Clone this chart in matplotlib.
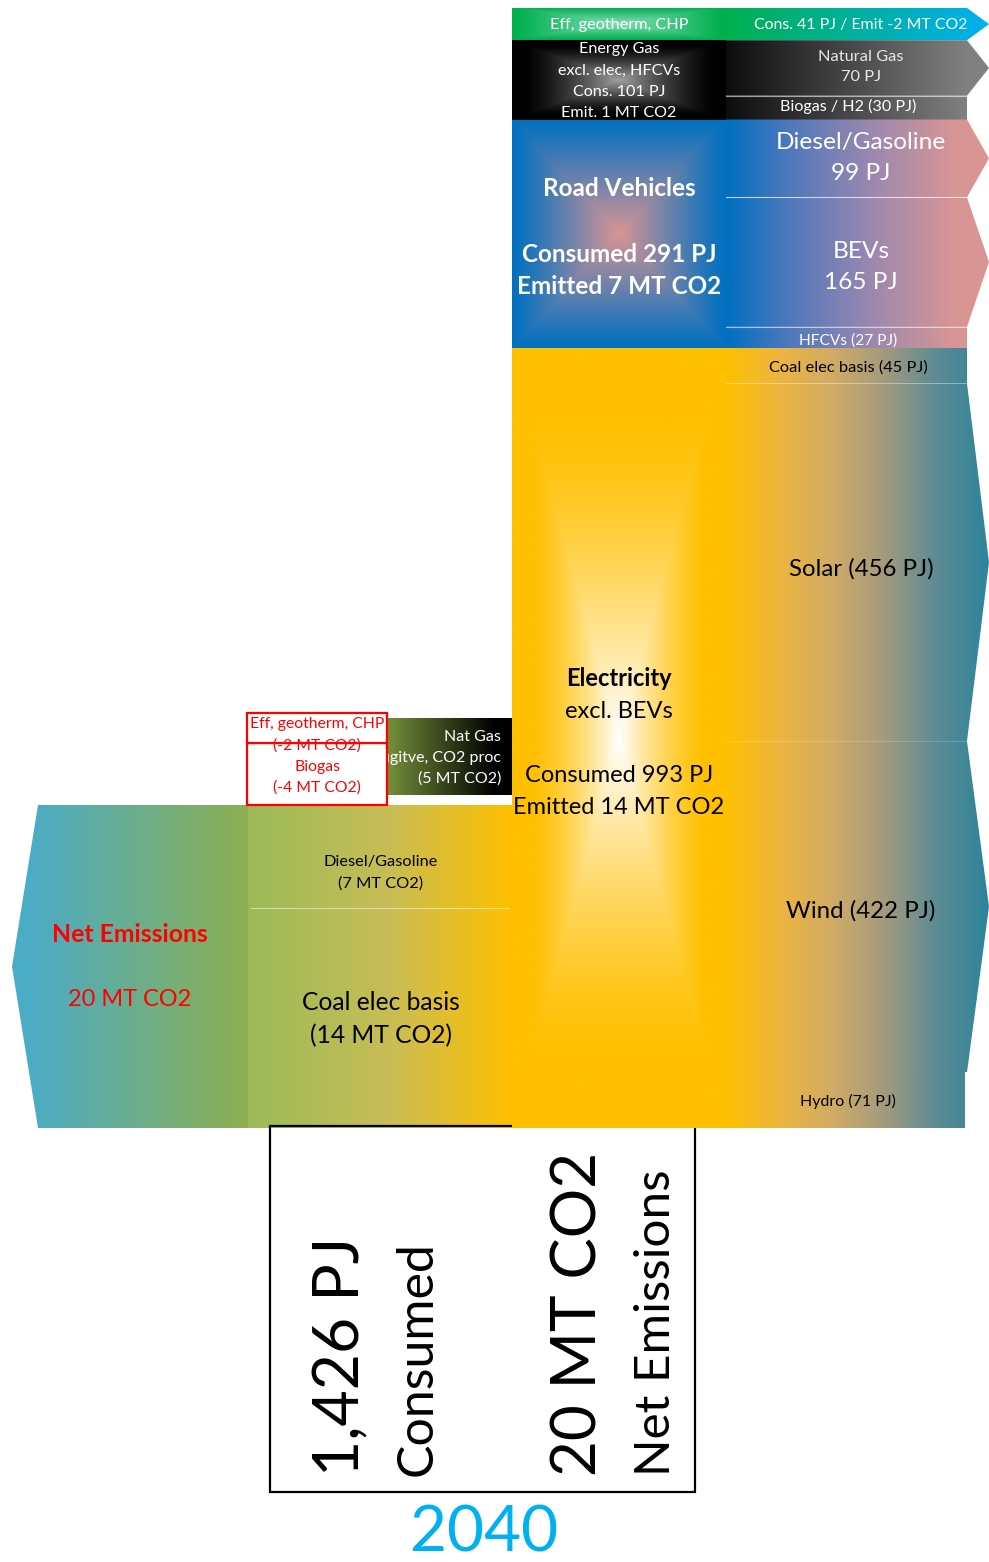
import numpy as np
import matplotlib.pyplot as plt
from matplotlib.patches import Polygon, Rectangle
from matplotlib.colors import to_rgb

plt.rcParams['font.family'] = ['Lato', 'DejaVu Sans']

# --- Data ------------------------------------------------------------
# energy consumed by sector (PJ), stacked top to bottom in the centre column
sectors = ['Eff, geotherm, CHP', 'Energy Gas', 'Road Vehicles', 'Electricity']
sector_pj = [41, 101, 291, 993]
total_pj = 1426

gas_parts = ['Natural Gas', 'Biogas / H2']
gas_pj = [70, 30]
road_parts = ['Diesel/Gasoline', 'BEVs', 'HFCVs']
road_pj = [99, 165, 27]
elec_parts = ['Coal elec basis', 'Solar', 'Wind', 'Hydro']
elec_pj = [45, 456, 422, 71]

# emissions (MT CO2)
net_mt = 20
emit_parts = ['Diesel/Gasoline', 'Coal elec basis']
emit_mt = [7, 14]
natgas_mt = 5
offset_parts = ['Eff, geotherm, CHP', 'Biogas']
offset_mt = [-2, -4]
year = '2040'

# --- Figure ----------------------------------------------------------
W, H = 989, 1562
fig = plt.figure(figsize=(W / 100, H / 100), dpi=100)
ax = fig.add_axes([0, 0, 1, 1])

PJ_PX = 1120 / total_pj     # pixels per PJ
MT_PX = 323 / net_mt        # pixels per MT CO2
TOP, BASE = 8, 1128
CX0, CX1 = 512, 726         # centre column
RX1, TIP = 967, 989         # right column end / arrow tip
LX0 = 248                   # left emissions column


def rect(x0, y0, x1, y1):
    return [(x0, y0), (x1, y0), (x1, y1), (x0, y1)]


def arrow(x0, y0, x1, y1, tip):
    return [(x0, y0), (x1, y0), (tip, (y0 + y1) / 2), (x1, y1), (x0, y1)]


def shade(verts, fn, z, n=300):
    verts = np.asarray(verts, float)
    x0, y0 = verts.min(0)
    x1, y1 = verts.max(0)
    X, Y = np.meshgrid(np.linspace(x0, x1, n), np.linspace(y0, y1, n))
    poly = Polygon(verts, closed=True, fc='none', ec='none')
    ax.add_patch(poly)
    im = ax.imshow(fn(X, Y), extent=(x0, x1, y1, y0), origin='upper',
                   aspect='auto', interpolation='bilinear', zorder=z)
    im.set_clip_path(poly)


def ramp(colors, xs):
    cols = np.array([to_rgb(c) for c in colors])

    def f(X, Y):
        return np.stack([np.interp(X, xs, cols[:, k]) for k in range(3)], -1)
    return f


def linear(c0, c1, xa, xb):
    return ramp([c0, c1], [xa, xb])


def glow(edge, centre, box, reach, power):
    a, b = np.array(to_rgb(edge)), np.array(to_rgb(centre))
    x0, y0, x1, y1 = box
    cx, cy, hw, hh = (x0 + x1) / 2, (y0 + y1) / 2, (x1 - x0) / 2, (y1 - y0) / 2

    def f(X, Y):
        t = np.maximum(np.abs(X - cx) / hw, np.abs(Y - cy) / hh)
        w = np.clip(1 - t / reach, 0, 1) ** power
        return a + (b - a) * w[..., None]
    return f


def split(y0, y1, vals):
    edges = y0 + (y1 - y0) * np.concatenate([[0], np.cumsum(vals)]) / np.sum(vals)
    return list(zip(edges[:-1], edges[1:]))


def sep(x0, x1, y):
    ax.plot([x0, x1], [y, y], color='white', lw=0.8, alpha=0.6, zorder=9)


def label(x, y, s, size, color='black', weight='normal', z=10, **kw):
    ax.text(x, y, s, fontsize=size, color=color, fontweight=weight,
            ha=kw.pop('ha', 'center'), va='center', zorder=z,
            linespacing=kw.pop('linespacing', 1.62), **kw)


# centre column blocks
yb = np.concatenate([[TOP], TOP + np.cumsum(sector_pj) * PJ_PX])
eff_y, gas_y, road_y, elec_y = [(yb[i], yb[i + 1]) for i in range(4)]
mx = (CX0 + CX1) / 2

# efficiency / geothermal band
shade(rect(CX0, eff_y[0], CX1, eff_y[1]),
      glow('#00B050', '#86DDB8', (CX0, eff_y[0], CX1, eff_y[1]), 0.95, 1.0), 2)
shade(arrow(CX1, eff_y[0], RX1, eff_y[1], TIP), linear('#00B050', '#00B0F0', CX1, TIP), 2)
label(mx, np.mean(eff_y) + 1, sectors[0], 11.7, 'white')
label(861, np.mean(eff_y) + 1, f'Cons. {sector_pj[0]} PJ / Emit {offset_mt[0]} MT CO2', 11.4, 'white')

# energy gas
shade(rect(CX0, gas_y[0], CX1, gas_y[1]),
      glow('#000000', '#A0A0A0', (CX0, gas_y[0], CX1, gas_y[1]), 0.9, 1.4), 3)
label(mx, 81, f'{sectors[1]}\nexcl. elec, HFCVs\nCons. {sector_pj[1]} PJ\nEmit. 1 MT CO2',
      11.6, 'white', z=3.5, linespacing=1.65)
gy = split(gas_y[0], gas_y[1], gas_pj)
shade(arrow(CX1, gy[0][0], RX1, gy[0][1], TIP), linear('#0D0D0D', '#808080', CX1, RX1), 3)
shade(rect(CX1, gy[1][0], RX1, gy[1][1]), linear('#0D0D0D', '#808080', CX1, RX1), 3)
sep(CX1, RX1, gy[0][1])
label(861, 67, f'{gas_parts[0]}\n{gas_pj[0]} PJ', 11.8, '#E8E8E8')
label(848, np.mean(gy[1]) - 1.5, f'{gas_parts[1]} ({gas_pj[1]} PJ)', 11.6, 'white')

# road vehicles
shade(rect(CX0, road_y[0], CX1, road_y[1]),
      glow('#0070C0', '#D99594', (CX0, road_y[0], CX1, road_y[1]), 1.0, 1.1), 4)
label(mx, 189, sectors[2], 17.5, 'white', 'bold')
label(mx, 254, f'Consumed {sector_pj[2]} PJ', 17.5, 'white', 'bold')
label(mx, 286, 'Emitted 7 MT CO2', 17.5, 'white', 'bold')
ry = split(road_y[0], road_y[1], road_pj)
road_fill = ramp(['#0070C0', '#4F78BC', '#9A88B0', '#D99594'], [CX1, 790, 870, 955])
shade(arrow(CX1, ry[0][0], RX1, ry[0][1], TIP), road_fill, 4)
shade(arrow(CX1, ry[1][0], RX1, ry[1][1], TIP), road_fill, 4)
shade(rect(CX1, ry[2][0], RX1, ry[2][1]), road_fill, 4)
sep(CX1, RX1, ry[0][1])
sep(CX1, RX1, ry[1][1])
label(861, 158, f'{road_parts[0]}\n{road_pj[0]} PJ', 17.6, 'white', linespacing=1.6)
label(861, 267, f'{road_parts[1]}\n{road_pj[1]} PJ', 17.6, 'white', linespacing=1.6)
label(848, np.mean(ry[2]) + 3, f'{road_parts[2]} ({road_pj[2]} PJ)', 11.2, 'white')

# electricity
elec_top = elec_y[0]
shade(rect(CX0, elec_top, CX1, BASE),
      glow('#FFC000', '#FFFFFF', (CX0, elec_top, CX1, BASE), 0.82, 1.4), 5)
label(mx, 678, sectors[3], 17, 'black', 'bold')
label(mx, 711, 'excl. BEVs', 17)
label(mx, 776, f'Consumed {sector_pj[3]} PJ', 17)
label(mx, 808, 'Emitted 14 MT CO2', 17)
ey = split(elec_top, BASE, elec_pj)
elec_fill = ramp(['#FFC000', '#EDB540', '#D2AC64', '#A89C7C', '#5E8C93', '#31849B'],
                 [CX1, 780, 830, 880, 935, 985])
shade(rect(CX1, ey[0][0], RX1, ey[0][1]), elec_fill, 5)
shade(arrow(CX1, ey[1][0], RX1, ey[1][1], TIP), elec_fill, 5)
shade(arrow(CX1, ey[2][0], RX1, ey[2][1], TIP), elec_fill, 5)
shade(rect(CX1, ey[3][0], RX1 - 2, ey[3][1]), elec_fill, 5)
label(848, np.mean(ey[0]) + 2, f'{elec_parts[0]} ({elec_pj[0]} PJ)', 11.8)
label(861, 569, f'{elec_parts[1]} ({elec_pj[1]} PJ)', 17.3)
label(861, 911, f'{elec_parts[2]} ({elec_pj[2]} PJ)', 17.3)
label(848, np.mean(ey[3]) + 1, f'{elec_parts[3]} ({elec_pj[3]} PJ)', 11.5)

# --- emissions side ---------------------------------------------------
net_top = BASE - net_mt * MT_PX
comp_px = (BASE - net_top) / sum(emit_mt)
shade([(38, net_top), (LX0, net_top), (LX0, BASE), (38, BASE), (12, (net_top + BASE) / 2)],
      linear('#4BACC6', '#8DB050', 30, LX0), 2)
label(130, 934, 'Net Emissions', 17.8, '#FF0000', 'bold')
label(130, 999, f'{net_mt} MT CO2', 16.9, '#FF0000')

ly = split(net_top, BASE, emit_mt)
left_fill = ramp(['#9BBB59', '#C8BD55', '#FFC000'], [LX0, 390, CX0])
for y0, y1 in ly:
    shade(rect(LX0, y0, CX0, y1), left_fill, 2)
ax.plot([LX0 + 3, CX0 - 3], [ly[0][1] - 5] * 2, color='white', lw=0.8, alpha=0.5, zorder=2.5)
label(381, 873, f'{emit_parts[0]}\n({emit_mt[0]} MT CO2)', 11.8)
label(381, 1019, f'{emit_parts[1]}\n({emit_mt[1]} MT CO2)', 17.7, linespacing=1.5)

# natural gas fugitive block
ng_bot = net_top - 10
ng_top = ng_bot - natgas_mt * comp_px
shade(rect(386, ng_top, CX0, ng_bot), linear('#76923C', '#000000', 386, 495), 2)
label(501, 758, 'Nat Gas\nFugitve, CO2 proc\n(5 MT CO2)', 11.5,
      'white', ha='right', z=2.5)

# negative offsets drawn as red outlined boxes
ob = net_top
for name, v, dy in zip(offset_parts[::-1], offset_mt[::-1], [3, 7]):
    h = -v * comp_px
    ax.add_patch(Rectangle((247, ob - h), 140, h, fc='white', ec='#FF0000', lw=1.6, zorder=3))
    label(317, ob - h / 2 + dy, f'{name}\n({v} MT CO2)', 11.3, '#FF0000', z=3.5)
    ob -= h

# totals box
ax.add_patch(Rectangle((270, 1126), 425, 366, fc='none', ec='black', lw=1.6, zorder=3))
rot = dict(rotation=90, rotation_mode='anchor', ha='left', va='center', zorder=10)
ax.text(341, 1476, f'{total_pj:,} PJ', fontsize=45, **rot)
ax.text(418, 1476, 'Consumed', fontsize=36, **rot)
ax.text(579, 1476, f'{net_mt} MT CO2', fontsize=44.6, **rot)
ax.text(656, 1476, 'Net Emissions', fontsize=35.6, **rot)
ax.text(484, 1533, year, fontsize=46, color='#00B0F0', ha='center', va='center')

ax.set_xlim(0, W)
ax.set_ylim(H, 0)
ax.axis('off')
fig.savefig('out.png', dpi=100, facecolor='white')
